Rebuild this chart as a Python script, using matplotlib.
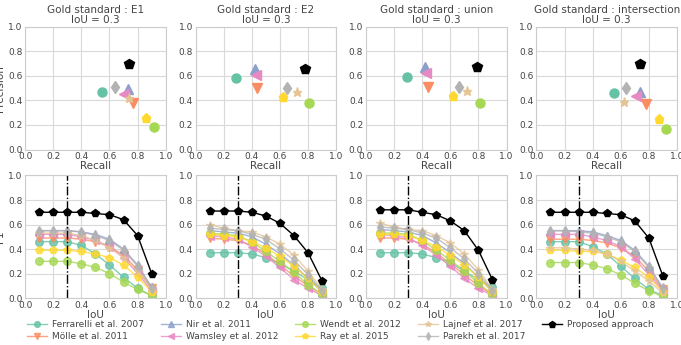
import matplotlib
matplotlib.use("Agg")
import matplotlib.pyplot as plt
import numpy as np

methods = ["Ferrarelli et al. 2007", "Mölle et al. 2011", "Nir et al. 2011",
           "Wamsley et al. 2012", "Wendt et al. 2012", "Ray et al. 2015",
           "Lajnef et al. 2017", "Parekh et al. 2017", "Proposed approach"]
colors = ["#66c2a5", "#fc8d62", "#8da0cb", "#e78ac3", "#a6d854", "#ffd92f",
          "#e5c494", "#b3b3b3", "#000000"]
markers = ["o", "v", "^", "<", "o", "p", "*", "d", "p"]

standards = ["E1", "E2", "union", "intersection"]

# Recall / Precision at IoU = 0.3 (order as methods)
recall = {
    "E1":           [0.55, 0.77, 0.73, 0.70, 0.92, 0.86, 0.74, 0.64, 0.74],
    "E2":           [0.29, 0.44, 0.42, 0.43, 0.81, 0.62, 0.72, 0.65, 0.78],
    "union":        [0.29, 0.44, 0.42, 0.43, 0.81, 0.62, 0.72, 0.66, 0.79],
    "intersection": [0.55, 0.78, 0.74, 0.71, 0.92, 0.87, 0.62, 0.64, 0.74],
}
precision = {
    "E1":           [0.47, 0.38, 0.49, 0.45, 0.18, 0.26, 0.42, 0.51, 0.70],
    "E2":           [0.58, 0.50, 0.66, 0.61, 0.38, 0.43, 0.47, 0.50, 0.66],
    "union":        [0.59, 0.51, 0.67, 0.62, 0.38, 0.44, 0.48, 0.51, 0.67],
    "intersection": [0.46, 0.37, 0.47, 0.44, 0.17, 0.25, 0.39, 0.50, 0.70],
}

iou = [0.1, 0.2, 0.3, 0.4, 0.5, 0.6, 0.7, 0.8, 0.9]

f1 = {
    "E1": [
        [0.46, 0.46, 0.46, 0.43, 0.36, 0.27, 0.17, 0.08, 0.02],
        [0.49, 0.49, 0.49, 0.48, 0.46, 0.42, 0.35, 0.23, 0.08],
        [0.55, 0.55, 0.55, 0.54, 0.52, 0.48, 0.40, 0.27, 0.09],
        [0.52, 0.52, 0.52, 0.50, 0.47, 0.42, 0.33, 0.20, 0.06],
        [0.30, 0.30, 0.30, 0.28, 0.25, 0.20, 0.13, 0.07, 0.02],
        [0.39, 0.39, 0.39, 0.38, 0.36, 0.33, 0.27, 0.17, 0.05],
        [0.53, 0.53, 0.53, 0.51, 0.47, 0.41, 0.33, 0.22, 0.07],
        [0.55, 0.55, 0.55, 0.54, 0.51, 0.47, 0.39, 0.26, 0.08],
        [0.70, 0.70, 0.70, 0.70, 0.69, 0.68, 0.64, 0.51, 0.20],
    ],
    "E2": [
        [0.37, 0.37, 0.37, 0.36, 0.33, 0.28, 0.22, 0.15, 0.08],
        [0.49, 0.48, 0.47, 0.43, 0.36, 0.27, 0.18, 0.10, 0.03],
        [0.55, 0.54, 0.53, 0.50, 0.44, 0.36, 0.27, 0.16, 0.05],
        [0.51, 0.50, 0.48, 0.42, 0.34, 0.25, 0.15, 0.08, 0.02],
        [0.53, 0.52, 0.51, 0.46, 0.38, 0.30, 0.21, 0.11, 0.03],
        [0.52, 0.51, 0.50, 0.46, 0.41, 0.34, 0.26, 0.16, 0.05],
        [0.60, 0.57, 0.55, 0.54, 0.50, 0.44, 0.35, 0.22, 0.07],
        [0.57, 0.56, 0.55, 0.52, 0.48, 0.40, 0.31, 0.19, 0.06],
        [0.71, 0.71, 0.71, 0.70, 0.67, 0.61, 0.51, 0.37, 0.14],
    ],
    "union": [
        [0.37, 0.37, 0.37, 0.36, 0.33, 0.29, 0.22, 0.15, 0.09],
        [0.49, 0.49, 0.48, 0.44, 0.37, 0.28, 0.19, 0.10, 0.03],
        [0.56, 0.55, 0.54, 0.51, 0.45, 0.37, 0.28, 0.17, 0.05],
        [0.52, 0.51, 0.49, 0.43, 0.35, 0.26, 0.16, 0.08, 0.02],
        [0.53, 0.53, 0.52, 0.47, 0.39, 0.31, 0.22, 0.12, 0.03],
        [0.52, 0.52, 0.51, 0.47, 0.42, 0.35, 0.27, 0.17, 0.05],
        [0.61, 0.58, 0.56, 0.55, 0.51, 0.45, 0.36, 0.23, 0.07],
        [0.58, 0.57, 0.56, 0.53, 0.49, 0.41, 0.32, 0.20, 0.06],
        [0.72, 0.72, 0.72, 0.70, 0.68, 0.63, 0.55, 0.39, 0.15],
    ],
    "intersection": [
        [0.46, 0.46, 0.46, 0.42, 0.36, 0.26, 0.16, 0.07, 0.02],
        [0.48, 0.48, 0.48, 0.47, 0.45, 0.41, 0.34, 0.22, 0.07],
        [0.55, 0.55, 0.55, 0.54, 0.51, 0.47, 0.39, 0.26, 0.08],
        [0.52, 0.52, 0.52, 0.50, 0.47, 0.42, 0.32, 0.19, 0.06],
        [0.29, 0.29, 0.29, 0.27, 0.24, 0.19, 0.12, 0.06, 0.01],
        [0.39, 0.39, 0.38, 0.38, 0.36, 0.31, 0.25, 0.17, 0.05],
        [0.41, 0.41, 0.40, 0.39, 0.36, 0.30, 0.22, 0.14, 0.04],
        [0.55, 0.55, 0.54, 0.53, 0.50, 0.46, 0.38, 0.25, 0.08],
        [0.70, 0.70, 0.70, 0.70, 0.69, 0.68, 0.63, 0.49, 0.18],
    ],
}

TXT = "#444444"
plt.rcParams.update({
    "font.family": ["DejaVu Sans"],
    "axes.edgecolor": "#cccccc",
    "axes.linewidth": 0.8,
    "grid.color": "#d9d9d9",
    "grid.linewidth": 0.8,
    "xtick.color": TXT,
    "ytick.color": TXT,
    "xtick.labelsize": 6.5,
    "ytick.labelsize": 6.5,
    "xtick.major.size": 0,
    "ytick.major.size": 0,
    "xtick.major.pad": 2,
    "ytick.major.pad": 2,
    "axes.labelcolor": TXT,
    "text.color": TXT,
})

fig, axes = plt.subplots(2, 4, figsize=(6.81, 3.45), dpi=100)
fig.subplots_adjust(left=0.037, right=0.994, top=0.922, bottom=0.136,
                    wspace=0.213, hspace=0.212)

ticks = [0.0, 0.2, 0.4, 0.6, 0.8, 1.0]
for j, std in enumerate(standards):
    ax = axes[0, j]
    for k, m in enumerate(methods):
        ax.plot(recall[std][k], precision[std][k], linestyle="none",
                marker=markers[k], color=colors[k],
                markersize=7 if k == 8 else 6.5, alpha=1.0)
    ax.set_xlim(0, 1)
    ax.set_ylim(0, 1)
    ax.set_xticks(ticks)
    ax.set_yticks(ticks)
    ax.grid(True)
    ax.set_axisbelow(True)
    ax.set_title(f"Gold standard : {std}\nIoU = 0.3", fontsize=7.5,
                 color=TXT, pad=3, linespacing=1.0)
    ax.set_xlabel("Recall", fontsize=7.5, labelpad=0)
    if j == 0:
        ax.set_ylabel("Precision", fontsize=7.5, labelpad=2)

    ax = axes[1, j]
    for k, m in enumerate(methods):
        ax.plot(iou, f1[std][k], marker=markers[k], color=colors[k],
                markersize=6 if k == 8 else 5.5, linewidth=1.0,
                alpha=1.0 if k == 8 else 0.8, label=m)
    ax.axvline(0.3, color="black", linestyle="-.", linewidth=1.0)
    ax.set_xlim(0, 1)
    ax.set_ylim(0, 1)
    ax.set_xticks(ticks)
    ax.set_yticks(ticks)
    ax.grid(True)
    ax.set_axisbelow(True)
    ax.set_xlabel("IoU", fontsize=7.5, labelpad=0)
    if j == 0:
        ax.set_ylabel("F1", fontsize=7.5, labelpad=2)

handles, labels = axes[1, 0].get_legend_handles_labels()
fig.legend(handles, labels, loc="lower center", ncol=5, frameon=False,
           fontsize=6.5, bbox_to_anchor=(0.5, -0.005), columnspacing=1.9,
           handlelength=2.2, handletextpad=0.55, labelspacing=0.35,
           markerscale=0.75, borderaxespad=0.2)

fig.savefig("out.png", dpi=100)
